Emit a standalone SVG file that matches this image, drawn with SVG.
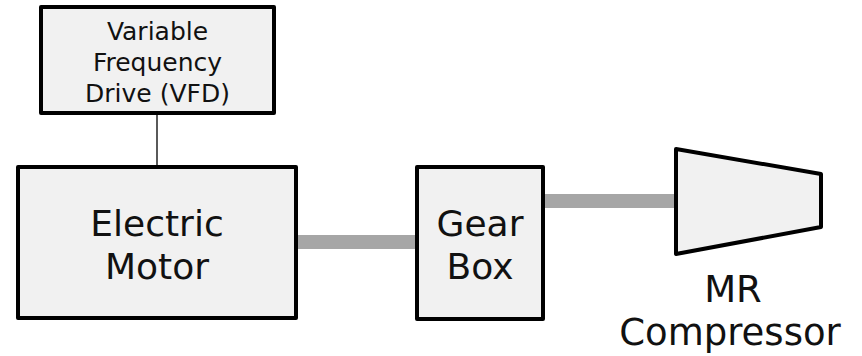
<svg xmlns="http://www.w3.org/2000/svg" width="862" height="356" viewBox="0 0 862 356">
<style>
.box{fill:#f1f1f1;stroke:#000;stroke-width:4;stroke-linejoin:round}
.t{font-family:"DejaVu Sans","Verdana",sans-serif;fill:#111;text-anchor:middle}
.s{font-size:25px}
.l{font-size:36px}
.c{font-size:37px}
.shaft{stroke:#a6a6a6;stroke-width:14;fill:none}
.wire{stroke:#000;stroke-width:1.3;fill:none}
</style>
<rect width="862" height="356" fill="#fff"/>
<g id="connectors">
<line class="wire" x1="157" y1="113" x2="157" y2="167"/>
<line class="shaft" x1="298" y1="242" x2="415" y2="242"/>
<line class="shaft" x1="545" y1="201" x2="674" y2="201"/>
</g>
<g id="vfd">
<rect class="box" x="41" y="7" width="233" height="106"/>
<text class="t s" x="157.5" y="39.5">Variable</text>
<text class="t s" x="157.5" y="71">Frequency</text>
<text class="t s" x="157.5" y="102">Drive (VFD)</text>
</g>
<g id="motor">
<rect class="box" x="18" y="167" width="278" height="151"/>
<text class="t l" x="157" y="235.5">Electric</text>
<text class="t l" x="157" y="278.5">Motor</text>
</g>
<g id="gearbox">
<rect class="box" x="417" y="167" width="126" height="152"/>
<text class="t l" x="480" y="235.5">Gear</text>
<text class="t l" x="480" y="279">Box</text>
</g>
<g id="compressor">
<polygon class="box" points="676,149 821,174 821,227 676,254"/>
<text class="t c" x="733" y="301.5">MR</text>
<text class="t c" x="730" y="345">Compressor</text>
</g>
</svg>
